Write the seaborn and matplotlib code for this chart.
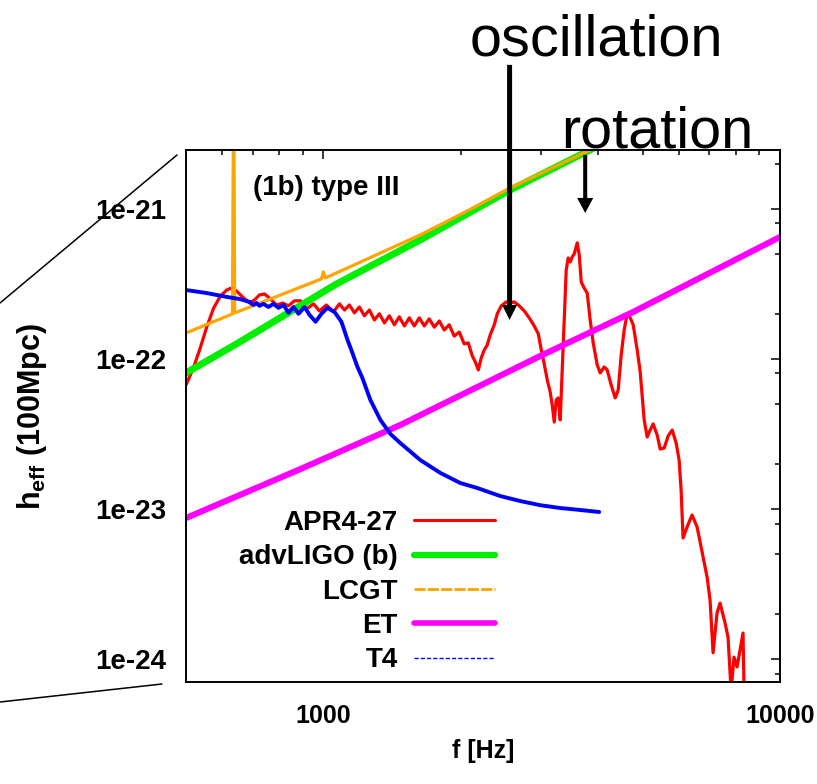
import numpy as np
import pandas as pd
import matplotlib
matplotlib.use("Agg")
import matplotlib.pyplot as plt
import seaborn as sns
from matplotlib.lines import Line2D
from matplotlib.ticker import NullFormatter

# ---------------- data (frequency in Hz, h_eff in units of 1e-22) ----------------
apr4_f = [500, 519, 538, 555, 575, 595, 614, 629, 645, 665,
          689, 706, 724, 743, 766, 789, 814, 838, 864, 891,
          918, 951, 980, 1015, 1052, 1084, 1112, 1140, 1169, 1199,
          1229, 1261, 1293, 1326, 1360, 1394, 1430, 1466, 1504, 1542,
          1581, 1622, 1663, 1705, 1749, 1794, 1839, 1886, 1934, 1984,
          2034, 2076, 2118, 2151, 2184, 2217, 2251, 2285, 2319, 2367,
          2403, 2452, 2514, 2566, 2618, 2685, 2753, 2823, 2895, 2955,
          3000, 3045, 3092, 3138, 3170, 3203, 3234, 3267, 3301, 3334,
          3368, 3402, 3436, 3471, 3507, 3542, 3596, 3633, 3670, 3725,
          3782, 3839, 3898, 3978, 4038, 4121, 4183, 4268, 4355, 4422,
          4489, 4557, 4627, 4698, 4769, 4866, 4941, 5041, 5118, 5196,
          5275, 5383, 5465, 5577, 5689, 5806, 5923, 6012, 6073, 6133,
          6259, 6418, 6583, 6784, 6923, 7028, 7135, 7280, 7391, 7579,
          7695, 7813, 7931, 8053, 8176, 8299, 8342]
apr4_h = [0.671, 0.871, 1.20, 1.63, 2.19, 2.63, 2.88, 2.97, 2.84, 2.59,
          2.36, 2.47, 2.67, 2.71, 2.51, 2.29, 2.36, 2.26, 2.44, 2.44,
          2.15, 2.33, 2.09, 2.29, 2.06, 2.33, 2.12, 2.29, 2.03, 2.22,
          1.94, 2.12, 1.82, 2.00, 1.74, 1.94, 1.69, 1.91, 1.66, 1.88,
          1.66, 1.88, 1.66, 1.85, 1.63, 1.79, 1.56, 1.69, 1.42, 1.51,
          1.26, 1.28, 1.05, 0.955, 0.845, 1.02, 1.15, 1.24, 1.45, 1.69,
          2.00, 2.26, 2.40, 2.36, 2.40, 2.26, 2.09, 1.88, 1.66, 1.47,
          1.15, 0.926, 0.724, 0.603, 0.494, 0.380, 0.533, 0.550, 0.392, 0.845,
          1.82, 3.92, 4.71, 4.43, 4.79, 5.01, 5.94, 4.94, 3.26, 2.97,
          2.75, 1.82, 1.28, 0.912, 0.807, 0.885, 0.845, 0.671, 0.550, 0.621,
          1.06, 1.56, 2.00, 1.88, 1.69, 1.15, 0.819, 0.392, 0.302, 0.336,
          0.369, 0.311, 0.251, 0.255, 0.307, 0.336, 0.275, 0.212, 0.134, 0.0641,
          0.0759, 0.0912, 0.0759, 0.0479, 0.0352, 0.0247, 0.0110, 0.0203, 0.0236, 0.0174,
          0.0140, 0.0062, 0.0103, 0.00885, 0.0115, 0.0149, 0.0062]

ligo_f = [500, 645, 830, 1068, 1630, 2566, 3839, 4466]
ligo_h = [0.807, 1.259, 1.995, 3.162, 6.214, 13.38, 24.74, 31.14]

lcgt_f = [500, 632, 636, 639, 990, 1000, 1010, 1630, 2025, 2566, 3839, 4466]
lcgt_h = [1.491, 1.995, 100.0, 2.026, 3.415, 3.802, 3.467, 6.711, 9.404, 13.80, 24.74, 31.14]

et_f = [500, 891, 1474, 2985, 4769, 7893, 10000]
et_h = [0.0871, 0.1848, 0.3631, 1.047, 2.058, 4.501, 6.506]

t4_f = [500, 555, 614, 655, 689, 703, 714, 724, 739, 758,
        777, 797, 818, 838, 860, 882, 909, 932, 961, 990,
        1020, 1057, 1095, 1129, 1157, 1187, 1217, 1267, 1333, 1402,
        1474, 1630, 1803, 1994, 2173, 2439, 2698, 2985, 3301, 3651, 4018]
t4_h = [2.88, 2.75, 2.59, 2.51, 2.40, 2.29, 2.36, 2.26, 2.33, 2.22,
        2.33, 2.19, 2.29, 2.03, 2.22, 2.00, 2.22, 1.97, 1.77, 2.00,
        2.19, 2.06, 1.77, 1.34, 1.10, 0.885, 0.747, 0.533, 0.392, 0.316,
        0.275, 0.212, 0.174, 0.149, 0.138, 0.122, 0.113, 0.106, 0.1015, 0.0985, 0.0955]

series_names = ["APR4-27", "advLIGO (b)", "LCGT", "ET", "T4"]
x_major = [1000, 10000]
x_major_labels = ["1000", "10000"]
y_major = [1e-24, 1e-23, 1e-22, 1e-21]
y_major_labels = ["1e-24", "1e-23", "1e-22", "1e-21"]

# ---------------- style ----------------
sns.set_theme(style="white")
plt.rcParams["font.family"] = ["Liberation Sans", "DejaVu Sans"]
plt.rcParams["mathtext.fontset"] = "custom"
plt.rcParams["mathtext.rm"] = "Liberation Sans"
plt.rcParams["mathtext.bf"] = "Liberation Sans:bold"
plt.rcParams["mathtext.it"] = "Liberation Sans:italic"
for k in ["text.color", "axes.labelcolor", "xtick.color", "ytick.color", "axes.edgecolor"]:
    plt.rcParams[k] = "black"

W, H = 817, 784
fig = plt.figure(figsize=(W / 100, H / 100), dpi=100)
fig.patch.set_facecolor("white")
ax = fig.add_axes([186 / W, 1 - 682 / H, 594 / W, 532 / H])
ax.set_facecolor("white")
ax.set_xscale("log")
ax.set_yscale("log")

styles = [
    (apr4_f, apr4_h, "#ff0000", 2.3),
    (ligo_f, ligo_h, "#00ee00", 5.0),
    (lcgt_f, lcgt_h, "#ffa500", 2.3),
    (et_f, et_h, "#ff00ff", 4.4),
    (t4_f, t4_h, "#0000ff", 2.8),
]
for name, (f, h, c, lw) in zip(series_names, styles):
    df = pd.DataFrame({"f": f, "h": np.array(h) * 1e-22})
    sns.lineplot(data=df, x="f", y="h", ax=ax, color=c, linewidth=lw,
                 label=name, estimator=None, sort=False)

# ticks
ax.set_xticks(x_major, labels=x_major_labels, fontsize=18, fontweight="bold")
ax.set_xticks([600, 700, 800, 900, 2000, 3000, 4000, 5000, 6000, 7000, 8000, 9000], minor=True)
ax.xaxis.set_minor_formatter(NullFormatter())
ax.set_yticks(y_major, labels=y_major_labels, fontsize=20, fontweight="bold")
yminor = [m * 10.0 ** e for e in range(-25, -20) for m in (2, 5, 8)]
ax.set_yticks(yminor, minor=True)
ax.yaxis.set_minor_formatter(NullFormatter())
ax.tick_params(which="both", direction="in", top=True, right=True, colors="black", width=1.1)
ax.tick_params(which="major", length=6.5)
ax.tick_params(which="minor", length=3.6)
ax.tick_params(axis="y", which="major", pad=14)
ax.tick_params(axis="x", which="major", pad=16)
for sp in ax.spines.values():
    sp.set_color("black")
    sp.set_linewidth(1.4)

ax.set_xlim(500, 10000)
ax.set_ylim(7.03e-25, 2.47e-21)

# labels
ax.set_xlabel("f [Hz]", fontsize=18, fontweight="bold")
ax.xaxis.label.set_va("center")
ax.xaxis.set_label_coords(0.5, (682 - 751) / 532)
ax.set_ylabel(r"$\mathbf{h}_{\mathbf{eff}}$ (100Mpc)", fontsize=22, fontweight="bold")
ax.yaxis.label.set_va("center")
ax.yaxis.set_label_coords((32 - 186) / 594, 0.5)

ax.text((253 - 186) / 594, (682 - 195) / 532, "(1b) type III", transform=ax.transAxes,
        fontsize=20, fontweight="bold", ha="left", va="baseline")

# legend
handles, labels = ax.get_legend_handles_labels()
leg = ax.legend(handles, labels, loc="upper right", bbox_to_anchor=((495 - 186) / 594, (682 - 510) / 532),
                markerfirst=False, frameon=False, prop={"size": 20, "weight": "bold"},
                handlelength=2.9, handletextpad=0.6, labelspacing=0.3, borderpad=0, borderaxespad=0)
lh = leg.legend_handles
lh[0].set_linewidth(2.2)
lh[1].set_linewidth(4.5)
lh[2].set_linewidth(2.0)
lh[2].set_linestyle((0, (4, 0.8)))
lh[3].set_linewidth(4.0)
lh[4].set_linewidth(1.0)
lh[4].set_linestyle((0, (3, 1.5)))

# annotations
fig.text(596 / W, 1 - 55 / H, "oscillation", fontsize=41.5, ha="center", va="baseline")
fig.text(657 / W, 1 - 147 / H, "rotation", fontsize=41.5, ha="center", va="baseline")
ax.annotate("", xy=(2557, 1.82e-22), xytext=(2557, 9.12e-21), annotation_clip=False,
            arrowprops=dict(arrowstyle="simple,head_length=0.54,head_width=0.54,tail_width=0.18",
                            mutation_scale=20, facecolor="black", edgecolor="none", lw=0,
                            shrinkA=0, shrinkB=0))
ax.annotate("", xy=(3744, 9.40e-22), xytext=(3744, 2.29e-21), annotation_clip=False,
            arrowprops=dict(arrowstyle="simple,head_length=0.54,head_width=0.58,tail_width=0.145",
                            mutation_scale=20, facecolor="black", edgecolor="none", lw=0,
                            shrinkA=0, shrinkB=0))

# connector lines outside the panel
fig.add_artist(Line2D([0, 177 / W], [1 - 303 / H, 1 - 155 / H], transform=fig.transFigure,
                      color="black", lw=1.1))
fig.add_artist(Line2D([0, 162 / W], [1 - 702 / H, 1 - 684 / H], transform=fig.transFigure,
                      color="black", lw=1.1))

fig.savefig("out.png", dpi=100, facecolor="white")
